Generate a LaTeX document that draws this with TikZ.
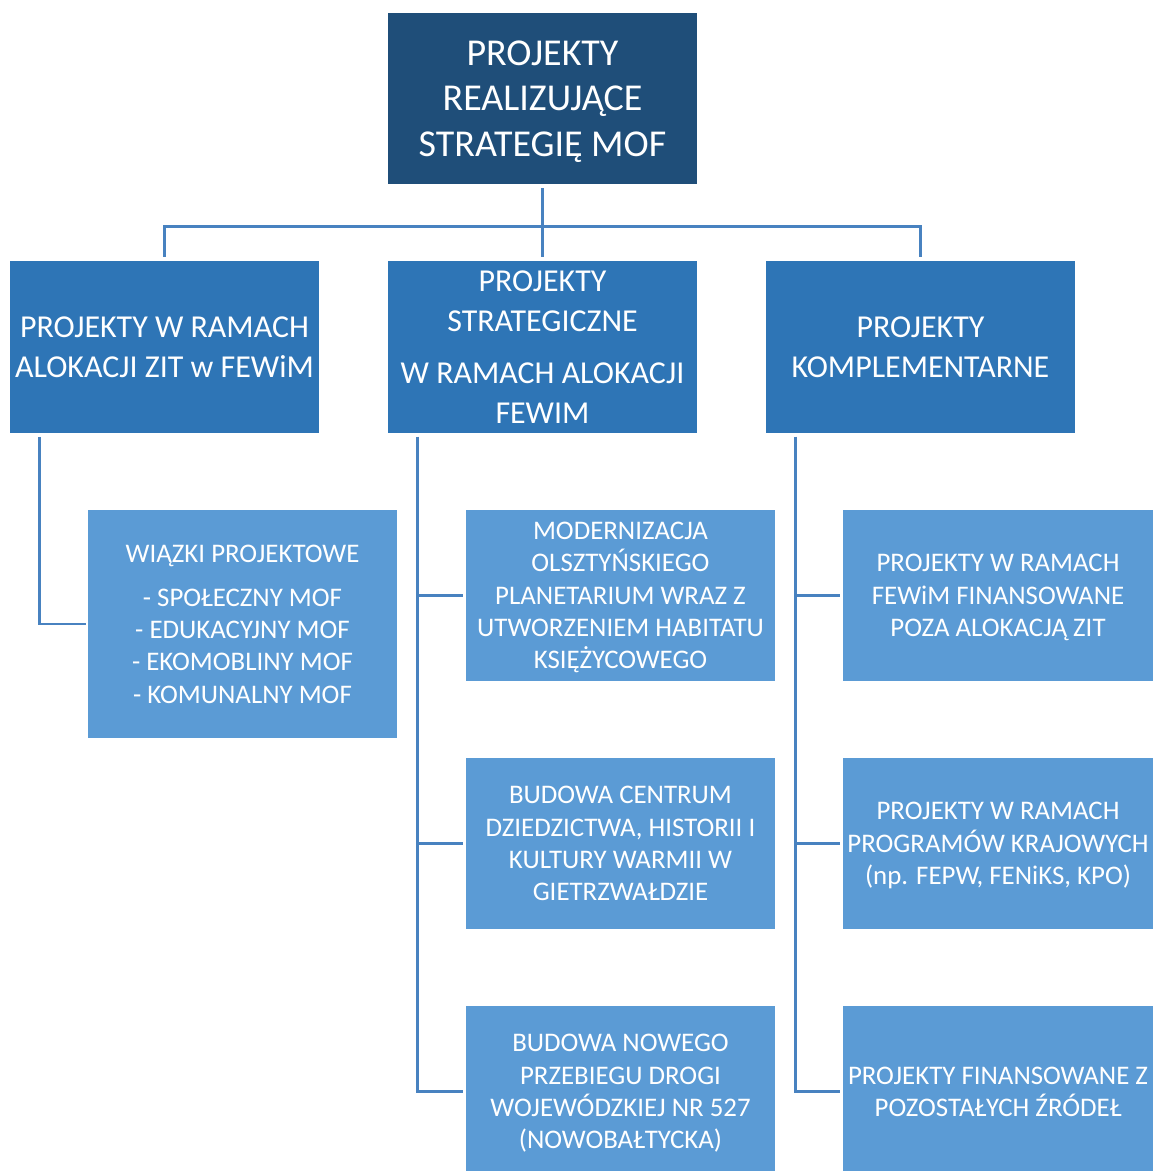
\documentclass[tikz,border=0pt]{standalone}
\usepackage{fontspec}
\setmainfont{Carlito}
\usetikzlibrary{positioning, calc}
\definecolor{topblue}{RGB}{31, 78, 121}
\definecolor{midblue}{RGB}{46, 117, 182}
\definecolor{lowblue}{RGB}{91, 155, 213}
\definecolor{lineblue}{RGB}{72, 130, 192}

\begin{document}
\begin{tikzpicture}[x=0.025cm, y=-0.025cm,
        box/.style={rectangle, text=white, inner sep=0pt, text depth=-4pt, minimum width=7.725cm, minimum height=4.275cm, align=center},
        line/.style={draw=lineblue, line width=2.1pt}
    ]
        \useasboundingbox (0,0) rectangle (1152,1171);

        % top level
        \node[box, fill=topblue, font=\fontsize{27}{32.5}\selectfont] (top) at (542.5,98.5) {PROJEKTY\\REALIZUJĄCE\\STRATEGIĘ MOF};

        % second level
        \node[box, fill=midblue, font=\fontsize{22.7}{28.4}\selectfont] (zit) at (164.5,347) {PROJEKTY W RAMACH\\ALOKACJI ZIT w FEWiM};
        \node[box, fill=midblue, font=\fontsize{22.7}{28.4}\selectfont] (strat) at (542.5,347) {PROJEKTY\\STRATEGICZNE\\[9pt]W RAMACH ALOKACJI\\FEWIM};
        \node[box, fill=midblue, font=\fontsize{22.7}{28.4}\selectfont] (kompl) at (920.5,347) {PROJEKTY\\KOMPLEMENTARNE};

        % third level
        \begin{scope}[every node/.append style={font=\fontsize{19.1}{23}\selectfont}]
        \node[box, fill=lowblue, minimum height=5.7cm] (wiazki) at (242.5,624) {WIĄZKI PROJEKTOWE\\[8pt]- SPOŁECZNY MOF\\- EDUKACYJNY MOF\\- EKOMOBLINY MOF\\- KOMUNALNY MOF};
        \node[box, fill=lowblue] (planet) at (620.5,595.5) {MODERNIZACJA\\OLSZTYŃSKIEGO\\PLANETARIUM WRAZ Z\\UTWORZENIEM HABITATU\\KSIĘŻYCOWEGO};
        \node[box, fill=lowblue] (centrum) at (620.5,843.5) {BUDOWA CENTRUM\\DZIEDZICTWA, HISTORII I\\KULTURY WARMII W\\GIETRZWAŁDZIE};
        \node[box, fill=lowblue] (droga) at (620.5,1091.5) {BUDOWA NOWEGO\\PRZEBIEGU DROGI\\WOJEWÓDZKIEJ NR 527\\(NOWOBAŁTYCKA)};
        \node[box, fill=lowblue] (fewim) at (998,595.5) {PROJEKTY W RAMACH\\FEWiM FINANSOWANE\\POZA ALOKACJĄ ZIT};
        \node[box, fill=lowblue] (krajowe) at (998,843.5) {PROJEKTY W RAMACH\\PROGRAMÓW KRAJOWYCH\\(np. FEPW, FENiKS, KPO)};
        \node[box, fill=lowblue] (zrodla) at (998,1091.5) {PROJEKTY FINANSOWANE Z\\POZOSTAŁYCH ŹRÓDEŁ};
        \end{scope}

        % connectors
        \draw[line] ([yshift=-0.1cm]top.south) -- ++(0,38) -| ([yshift=0.1cm]zit.north);
        \draw[line] ([yshift=-0.1cm]top.south) -- ++(0,38) -| ([yshift=0.1cm]kompl.north);
        \draw[line] ([yshift=-0.1cm]top.south) -- ([yshift=0.1cm]strat.north);

        \draw[line] ([xshift=0.75cm, yshift=-0.1cm]zit.south west) |- ([xshift=-0.05cm]wiazki.west);
        \draw[line] ([xshift=0.75cm, yshift=-0.1cm]strat.south west) |- ([xshift=-0.075cm]planet.west);
        \draw[line] ([xshift=0.75cm, yshift=-0.1cm]strat.south west) |- ([xshift=-0.075cm]centrum.west);
        \draw[line] ([xshift=0.75cm, yshift=-0.1cm]strat.south west) |- ([xshift=-0.075cm]droga.west);
        \draw[line] ([xshift=0.75cm, yshift=-0.1cm]kompl.south west) |- ([xshift=-0.075cm]fewim.west);
        \draw[line] ([xshift=0.75cm, yshift=-0.1cm]kompl.south west) |- ([xshift=-0.075cm]krajowe.west);
        \draw[line] ([xshift=0.75cm, yshift=-0.1cm]kompl.south west) |- ([xshift=-0.075cm]zrodla.west);
    \end{tikzpicture}
\end{document}
